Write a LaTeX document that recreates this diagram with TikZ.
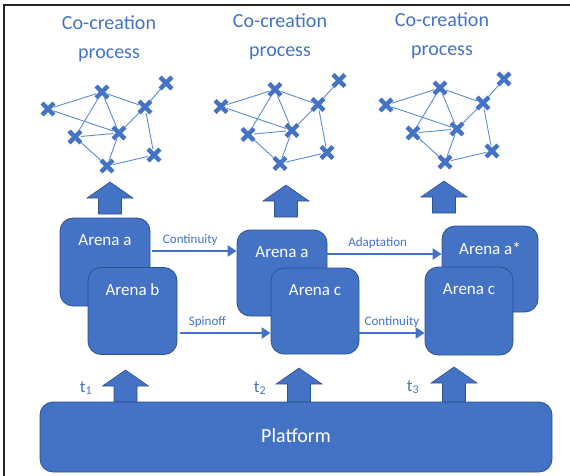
\documentclass[tikz,border=0pt]{standalone}
\usepackage{fontspec}
\setmainfont{Carlito}
\usetikzlibrary{arrows.meta, shapes.misc, positioning}
\definecolor{officeblue}{HTML}{4472C4}
\definecolor{officeedge}{HTML}{2F528F}
\definecolor{netline}{HTML}{5B8BD3}
\tikzset{
    arena/.style={rectangle, rounded corners=13pt, draw=officeedge, fill=officeblue, line width=0.8pt, minimum width=89pt, minimum height=87pt, inner sep=0pt},
    arenalabel/.style={anchor=north, yshift=-13pt, text=white, font=\fontsize{17}{20}\selectfont},
    title/.style={text=officeblue, align=center, font=\fontsize{20}{29}\selectfont},
    xmark/.style={cross out, draw=officeblue, line width=4.3pt, minimum size=7.5pt, inner sep=0pt},
    netedge/.style={draw=netline, line width=0.9pt},
    flow/.style={draw=officeblue, line width=2.6pt, -{Triangle[length=9pt, width=11pt]}},
    flowlabel/.style={text=officeblue, font=\fontsize{13}{15}\selectfont, above=1pt},
    fatarrow/.style={fill=officeblue, draw=officeedge, line width=0.6pt},
    timelabel/.style={text=officeblue, font=\fontsize{17}{20}\selectfont}
}
\newcommand{\cocrnet}[2]{%
  \begin{scope}[shift={#2}]
    \foreach \n/\px/\py in {1/48/109, 2/102/92, 3/145/107, 4/166/83, 5/119/133, 6/75/137, 7/107/166, 8/154/155}
      \node[xmark] (#1\n) at (\px,\py) {};
    \foreach \a/\b in {1/2, 2/3, 3/4, 1/5, 2/5, 2/6, 6/5, 6/7, 5/7, 5/3, 3/8, 7/8}
      \draw[netedge] (#1\a) -- (#1\b);
  \end{scope}}
\newcommand{\fatup}[3]{%
  \draw[fatarrow] (#1-11.5,#3) -- (#1-11.5,#2+16) -- (#1-23,#2+16) -- (#1,#2)
    -- (#1+23,#2+16) -- (#1+11.5,#2+16) -- (#1+11.5,#3) -- cycle;}

\begin{document}
\begin{tikzpicture}[x=1pt, y=-1pt]
    \useasboundingbox (0,0) rectangle (570,476);
    \draw[line width=2pt, black!85] (4,476) -- (4,5) -- (570,5);

    \node[title] (title1) at (109,39) {Co-creation\\process};
    \node[title] (title2) at (280,37) {Co-creation\\process};
    \node[title] (title3) at (442,36) {Co-creation\\process};

    \cocrnet{na}{(0,0)}
    \cocrnet{nb}{(173,-2.5)}
    \cocrnet{nc}{(338,-4)}

    \fatup{110}{182}{214}
    \fatup{286}{185}{217}
    \fatup{444}{181}{213}

    \node[arena, minimum width=90pt, minimum height=88pt, label={[arenalabel]north:Arena a}] (a1) at (105,262) {};
    \node[arena, label={[arenalabel]north:Arena b}] (b1) at (132.5,311) {};
    \node[arena, minimum width=90pt, minimum height=86pt, label={[arenalabel]north:Arena a}] (a2) at (282,273) {};
    \node[arena, minimum width=88pt, minimum height=86pt, label={[arenalabel]north:Arena c}] (c2) at (315,311) {};
    \node[arena, minimum width=96pt, minimum height=86pt, label={[arenalabel]north:Arena a*}] (a3) at (490,269) {};
    \node[arena, minimum width=88pt, minimum height=88pt, label={[arenalabel]north:Arena c}] (c3) at (469,311) {};

    \draw[flow] ([xshift=2pt, yshift=11pt]a1.east) -- node[flowlabel, pos=0.45] (lcont1) {Continuity} ([yshift=22pt]a2.west);
    \draw[flow] ([xshift=3pt, yshift=-22pt]b1.east) -- node[flowlabel, pos=0.3] (lspin) {Spinoff} ([yshift=-22pt]c2.west);
    \draw[flow] ([yshift=19pt]a2.east) -- node[flowlabel, pos=0.44] (ladapt) {Adaptation} ([yshift=15pt]a3.west);
    \draw[flow] ([yshift=-22pt]c2.east) -- node[flowlabel] (lcont2) {Continuity} ([yshift=-22pt]c3.west);

    \fatup{125.5}{370}{402}
    \fatup{299}{368}{402}
    \fatup{454}{367}{402}

    \node[timelabel] (t1) at (86,388) {t\textsubscript{1}};
    \node[timelabel] (t2) at (260,388) {t\textsubscript{2}};
    \node[timelabel] (t3) at (413,387) {t\textsubscript{3}};

    \node[arena, minimum width=512pt, minimum height=70pt, text=white, font=\fontsize{20}{24}\selectfont] (platform) at (296,437) {\raisebox{3pt}{Platform}};
\end{tikzpicture}
\end{document}
